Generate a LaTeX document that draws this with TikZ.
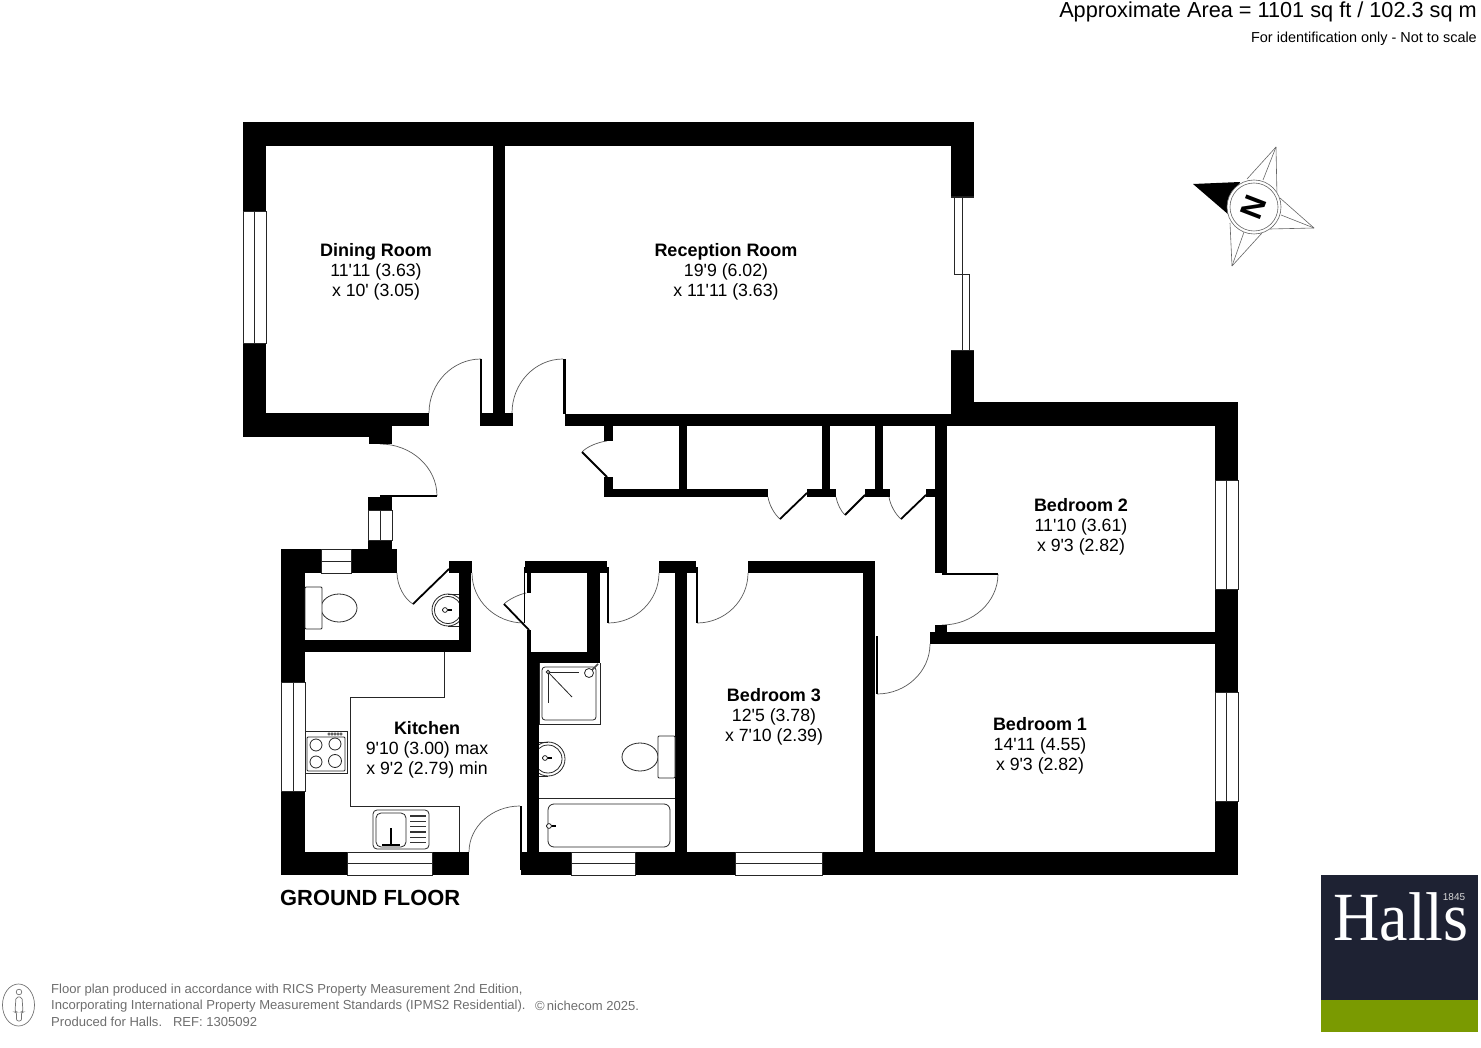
\documentclass[tikz,border=0pt]{standalone}
\usepackage{fontspec}
\setmainfont{Liberation Sans}[Ligatures=TeXOff]
\newfontfamily\logofont{Liberation Serif}
\usetikzlibrary{calc}
\definecolor{halldark}{HTML}{1E2233}
\definecolor{hallgreen}{HTML}{7A9A01}
\definecolor{footgrey}{HTML}{6E6E6E}
\tikzset{
  swing/.style={draw=black!65,line width=.7pt},
  leaf/.style={draw=black,line width=1.8pt},
  thinleaf/.style={draw=black,line width=2.4pt},
  fixture/.style={draw=black!85,line width=.8pt},
  glass/.style={draw=black!85,fill=white,line width=.9pt},
  roomtitle/.style={font=\bfseries\fontsize{18}{20}\selectfont,inner sep=0pt,anchor=base},
  roomdim/.style={font=\fontsize{17.7}{20}\selectfont,align=center,inner sep=0pt,anchor=center},
  foot/.style={font=\fontsize{13.05}{15}\selectfont,text=footgrey,anchor=west,inner sep=0pt},
  starline/.style={draw=black!60,line width=.6pt}
}
\newcommand{\wallbox}[4]{\fill[black] (#1,#2) rectangle (#3,#4);}
\newcommand{\winv}[4]{\draw[glass] (#1,#2) rectangle (#3,#4); \draw[glass] ({(#1+#3)/2},#2) -- ({(#1+#3)/2},#4);}
\newcommand{\winh}[4]{\draw[glass] (#1,#2) rectangle (#3,#4); \draw[glass] (#1,{(#2+#4)/2}) -- (#3,{(#2+#4)/2});}
% from a to b, with c the corner where the end tangents meet
\newcommand{\swingarc}[6]{\draw[swing] (#1,#2) .. controls ($(#1,#2)!.55!(#5,#6)$) and ($(#3,#4)!.55!(#5,#6)$) .. (#3,#4);}
\newcommand{\tapmark}[2]{\fill[black] (#1-3,#2-1) rectangle (#1+7,#2+1); \draw[fixture,fill=white] (#1,#2) circle (2.4pt);}
\begin{document}
\begin{tikzpicture}[x=1pt,y=-1pt]
\useasboundingbox (0,0) rectangle (1481,1048);
% door swings
\swingarc{481}{359}{429}{413}{429}{359}
\swingarc{563}{359}{512}{413}{512}{359}
\swingarc{380}{444}{437}{496}{437}{444}
\swingarc{582}{452}{607}{441}{590}{443}
\swingarc{780}{519}{768}{497}{770}{511}
\swingarc{845}{515}{836}{497}{838}{509}
\swingarc{901}{519}{889}{497}{891}{511}
\swingarc{472}{573}{524}{623}{472}{623}
\swingarc{504}{604}{526}{593}{512}{596}
\swingarc{608}{623}{659}{573}{659}{623}
\swingarc{697}{623}{748}{573}{748}{623}
\swingarc{998}{574}{942}{625}{998}{625}
\swingarc{930}{644}{877}{694}{930}{694}
\swingarc{520}{806}{469}{852}{469}{806}
\swingarc{413}{604}{397}{573}{397}{595}
% outer and main walls
\wallbox{243}{122}{974}{146}
\wallbox{243}{122}{266}{437}
\wallbox{243}{413}{392}{437}
\wallbox{369}{413}{392}{444}
\wallbox{369}{413}{429}{426}
\wallbox{493}{146}{505}{426}
\wallbox{480}{413}{513}{426}
\wallbox{565}{414}{1238}{426}
\wallbox{951}{122}{974}{414}
\wallbox{951}{402}{1238}{414}
\wallbox{974}{402}{1238}{426}
\wallbox{1215}{402}{1238}{875}
% cupboards along hall
\wallbox{604}{426}{613}{441}
\wallbox{604}{477}{613}{497}
\wallbox{604}{489}{768}{497}
\wallbox{679}{426}{687}{490}
\wallbox{822}{426}{830}{490}
\wallbox{875}{426}{883}{490}
\wallbox{807}{489}{836}{497}
\wallbox{865}{489}{890}{497}
\wallbox{926}{489}{935}{497}
\wallbox{935}{426}{947}{573}
% bedrooms
\wallbox{748}{561}{875}{573}
\wallbox{863}{561}{875}{875}
\wallbox{675}{561}{687}{875}
\wallbox{659}{561}{696}{573}
\wallbox{935}{625}{947}{640}
\wallbox{930}{632}{1215}{644}
% bathroom block
\wallbox{525}{561}{607}{573}
\wallbox{587}{561}{600}{663}
\wallbox{527}{652}{600}{663}
\wallbox{527}{573}{531}{593}
\wallbox{527}{630}{531}{652}
\wallbox{527}{652}{539}{875}
% bottom wall
\wallbox{281}{852}{469}{875}
\wallbox{521}{852}{1238}{875}
% kitchen and WC
\wallbox{281}{549}{305}{875}
\wallbox{281}{549}{397}{573}
\wallbox{368}{497}{392}{573}
\wallbox{368}{561}{397}{573}
\wallbox{449}{561}{472}{573}
\wallbox{459}{561}{471}{652}
\wallbox{305}{640}{471}{652}
% thin door leaves
\draw[thinleaf] (481,359) -- (481,413);
\draw[thinleaf] (564.5,359) -- (564.5,414);
\draw[thinleaf] (380,496) -- (437,496);
\draw[thinleaf] (608,567) -- (608,623);
\draw[thinleaf] (697,567) -- (697,623);
\draw[thinleaf] (942,574) -- (998,574);
\draw[thinleaf] (877,636) -- (877,694);
\draw[thinleaf] (521,806) -- (521,870);
\draw[line width=1.2pt] (524.5,567) -- (524.5,623);
% angled door leaves
\draw[leaf] (607,477) -- (582,452);
\draw[leaf] (807,493) -- (780,519);
\draw[leaf] (865,495) -- (845,515);
\draw[leaf] (926,495) -- (901,519);
\draw[leaf] (449,569) -- (413,604);
\draw[leaf] (529,630) -- (504,604);
% windows
\winv{243}{211}{266}{343}
\winv{281}{682}{305}{791}
\winv{368}{510}{392}{540}
\winv{1215}{480}{1238}{589}
\winv{1215}{692}{1238}{801}
\winh{321}{549}{351}{573}
\winh{347}{852}{432}{875}
\winh{571}{852}{635}{875}
\winh{735}{852}{822}{875}
% reception sliding window
\fill[white] (951,197) rectangle (974,350);
\draw[glass] (951,197) -- (974,197);
\draw[glass] (951,350) -- (974,350);
\draw[glass] (954.3,197) -- (954.3,274) -- (969.3,274) -- (969.3,350);
\draw[glass] (962.3,197) -- (962.3,350);
% kitchen worktop
\draw[fixture] (444,652) -- (444,697) -- (350,697) -- (350,806) -- (459,806) -- (459,852);
% hob
\draw[fixture] (305,731) rectangle (347,773);
\draw[fixture,rounded corners=1pt] (307,737) rectangle (345,771);
\foreach \kx in {329,332,335,338,341}{\draw[fixture,line width=.5pt] (\kx,734) circle (1.2pt);}
\foreach \bx/\by/\br in {316/745/6,335/744/6,316/762/6,335/761/6.5}{\draw[fixture] (\bx,\by) circle (\br pt);}
% sink
\draw[fixture,rounded corners=4pt] (373,810) rectangle (429,849);
\draw[fixture,rounded corners=5pt] (376,813) rectangle (406,847);
\foreach \dy in {816,821.3,826.6,831.9,837.2,842.5}{\draw[line width=1.2pt,black!80] (410,\dy) -- (426,\dy);}
\draw[line width=1.5pt] (391,828) -- (391,845);
\draw[line width=1.5pt] (382,845) -- (400,845);
% WC: toilet and basin
\draw[fixture] (339,608) ellipse [x radius=18pt,y radius=14pt];
\draw[fixture,fill=white,rounded corners=1pt] (305,587) rectangle (322,629);
\begin{scope}
\clip (428,590) rectangle (459,630);
\draw[fixture] (448,610) circle (16pt);
\draw[fixture] (448,610) circle (13.5pt);
\end{scope}
\draw[fixture] (448,594) -- (459,594);
\draw[fixture] (448,626) -- (459,626);
\tapmark{445}{610}
% shower
\draw[fixture] (539,663) -- (539,724) -- (600,724) -- (600,663);
\draw[fixture,rounded corners=3pt] (542,667) rectangle (596,720);
\draw[fixture] (548,672) -- (579,672);
\draw[fixture] (548,672) -- (548,703);
\draw[fixture] (548,672) -- (572,697);
\draw[fixture,fill=white] (548,672) circle (1.8pt);
\draw[line width=1.6pt,black!70] (589,673) -- (598,664);
\draw[fixture,fill=white] (589,673) circle (4.5pt);
% bathroom basin
\begin{scope}
\clip (539,738) rectangle (570,780);
\draw[fixture] (548,759) circle (17pt);
\draw[fixture] (548,759) circle (14pt);
\end{scope}
\draw[fixture] (539,742) -- (548,742);
\draw[fixture] (539,776) -- (548,776);
\tapmark{545}{758}
% bathroom toilet
\draw[fixture] (640,757) ellipse [x radius=18pt,y radius=14pt];
\draw[fixture,fill=white,rounded corners=1pt] (658,736) rectangle (675,778);
% bath
\draw[fixture] (539,798) -- (675,798);
\draw[fixture,rounded corners=6pt] (548,804) rectangle (670,847);
\tapmark{549}{826}
% room labels
\node[roomtitle] (dining) at (376,256.4) {Dining Room};
\node[roomdim] (diningdim) at (376,282) {11'11 (3.63)\\x 10' (3.05)};
\node[roomtitle] (reception) at (726,256.4) {Reception Room};
\node[roomdim] (receptiondim) at (726,282) {19'9 (6.02)\\x 11'11 (3.63)};
\node[roomtitle] (bed2) at (1081,511.4) {Bedroom 2};
\node[roomdim] (bed2dim) at (1081,537) {11'10 (3.61)\\x 9'3 (2.82)};
\node[roomtitle] (bed3) at (774,701.4) {Bedroom 3};
\node[roomdim] (bed3dim) at (774,727) {12'5 (3.78)\\x 7'10 (2.39)};
\node[roomtitle] (bed1) at (1040,730.4) {Bedroom 1};
\node[roomdim] (bed1dim) at (1040,756) {14'11 (4.55)\\x 9'3 (2.82)};
\node[roomtitle] (kitchen) at (427,734.4) {Kitchen};
\node[roomdim] (kitchendim) at (427,760) {9'10 (3.00) max\\x 9'2 (2.79) min};
\node[font=\bfseries\fontsize{21.9}{24}\selectfont,anchor=west,inner sep=0pt] (floor) at (280,898) {GROUND FLOOR};
% header
\node[font=\fontsize{21.7}{24}\selectfont,anchor=east,inner sep=0pt] (area) at (1477,12) {Approximate Area = 1101 sq ft / 102.3 sq m};
\node[font=\fontsize{14.45}{16}\selectfont,anchor=east,inner sep=0pt] (ident) at (1477,39) {For identification only - Not to scale};
% compass
\coordinate (cc) at (1254,207);
\foreach \tx/\ty/\ax/\ay/\bx/\by/\dx/\dy in {1276/147/1247/179/1263/180/1277/197, 1314/228/1280/198/1281/215/1270/229, 1232/266/1230/223/1244/232/1262/233}{
  \draw[starline] (\tx,\ty) -- (\ax,\ay);
  \draw[starline] (\tx,\ty) -- (\bx,\by);
  \draw[starline] (\tx,\ty) -- (\dx,\dy);
}
\fill[black] (1193,184) -- (1240,182) -- (1229,215) -- cycle;
\draw[starline,fill=white] (cc) circle (27pt);
\draw[starline] (cc) circle (24pt);
\node[font=\bfseries\fontsize{31}{31}\selectfont,rotate=69,inner sep=0pt] (north) at (cc) {N};
% footer
\draw[line width=.7pt,black!55] (18.5,1005) ellipse [x radius=16pt,y radius=21pt];
\draw[line width=.7pt,black!55] (19,992) circle (2.8pt);
\draw[line width=.7pt,black!55,rounded corners=2pt] (16,997) -- (22,997) -- (23,1012) -- (21.5,1012) -- (21.5,1021) -- (16.5,1021) -- (16.5,1012) -- (15,1012) -- cycle;
\node[foot] (f1) at (51,990) {Floor plan produced in accordance with RICS Property Measurement 2nd Edition,};
\node[foot] (f2) at (51,1006) {Incorporating International Property Measurement Standards (IPMS2 Residential).};
\node[foot] (f3) at (51,1022) {Produced for Halls.\ \ \ REF:\ 1305092};
\node[foot] (f4) at (535,1006) {©\,nichecom 2025.};
% logo
\fill[halldark] (1321,875) rectangle (1478,1000);
\fill[hallgreen] (1321,1000) rectangle (1478,1032);
\node[font=\logofont\fontsize{69}{69}\selectfont,text=white,xscale=.93,anchor=base west,inner sep=0pt] (halls) at (1333,940) {Halls};
\node[font=\fontsize{10}{10}\selectfont,text=white!85!black,anchor=center,inner sep=0pt] (since) at (1454,897) {1845};
\end{tikzpicture}
\end{document}
